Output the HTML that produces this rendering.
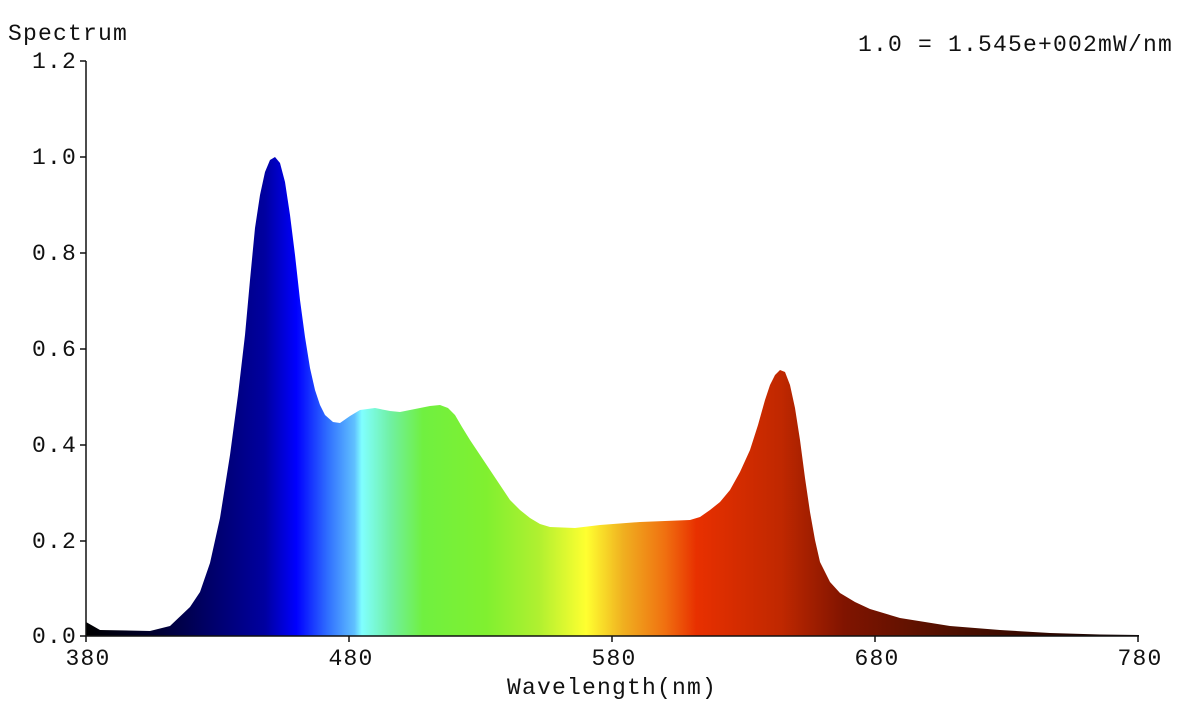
<!DOCTYPE html>
<html><head><meta charset="utf-8"><style>
html,body{margin:0;padding:0;background:#fff;width:1200px;height:714px;overflow:hidden}
text{font-family:"Liberation Mono",monospace;font-size:23px;fill:#111;letter-spacing:1.2px}
</style></head><body>
<svg width="1200" height="714" viewBox="0 0 1200 714">
<defs>
<linearGradient id="g" gradientUnits="userSpaceOnUse" x1="86" y1="0" x2="1139" y2="0">
<stop offset="0" stop-color="#000000"/>
<stop offset="0.06" stop-color="#00002a"/>
<stop offset="0.11" stop-color="#000060"/>
<stop offset="0.17" stop-color="#0000a0"/>
<stop offset="0.195" stop-color="#0000f0"/>
<stop offset="0.2" stop-color="#0000ff"/>
<stop offset="0.23" stop-color="#3070ff"/>
<stop offset="0.255" stop-color="#60c0ff"/>
<stop offset="0.262" stop-color="#80ffff"/>
<stop offset="0.29" stop-color="#70f0a0"/>
<stop offset="0.32" stop-color="#70f040"/>
<stop offset="0.38" stop-color="#80f030"/>
<stop offset="0.43" stop-color="#b0f030"/>
<stop offset="0.475" stop-color="#ffff30"/>
<stop offset="0.51" stop-color="#f0b020"/>
<stop offset="0.55" stop-color="#f07010"/>
<stop offset="0.58" stop-color="#e83000"/>
<stop offset="0.66" stop-color="#c02800"/>
<stop offset="0.72" stop-color="#801400"/>
<stop offset="0.82" stop-color="#501000"/>
<stop offset="1" stop-color="#100000"/>
</linearGradient>
</defs>
<path fill="url(#g)" d="M86,636 L86,622 L100,630 L150,631 L170,626 L190,607 L200,592 L210,563 L220,518 L230,455 L238,395 L245,335 L250,280 L255,228 L260,195 L265,172 L270,160 L275,157 L280,163 L285,182 L290,215 L295,255 L300,300 L305,337 L310,368 L315,390 L320,405 L325,415 L333,422 L340,423 L350,416 L360,410 L375,408 L390,411 L400,412 L410,410 L420,408 L430,406 L440,405 L448,408 L455,415 L462,427 L470,440 L480,455 L490,470 L500,485 L510,500 L520,510 L530,518 L540,524 L550,527 L575,528 L600,525 L640,522 L690,520 L700,517 L710,510 L720,502 L730,490 L740,472 L750,450 L758,425 L765,400 L770,385 L775,375 L780,370 L785,372 L790,385 L795,408 L800,440 L805,478 L810,512 L815,540 L820,562 L830,582 L840,593 L855,602 L870,609 L900,618 L950,626 L1000,630 L1050,633 L1100,634.5 L1139,635 L1139,636 Z"/>
<g stroke="#111" stroke-width="1.5" fill="none">
<path d="M86,61 V636 H1139"/>
<path d="M80,61H86M80,157H86M80,253H86M80,349H86M80,445H86M80,541H86M80,636H86"/>
<path d="M86,636V642M349,636V642M612,636V642M875,636V642M1138,636V642"/>
</g>
<text x="8" y="40">Spectrum</text>
<text x="858" y="51">1.0 = 1.545e+002mW/nm</text>
<g text-anchor="end">
<text x="77" y="68">1.2</text>
<text x="77" y="164">1.0</text>
<text x="77" y="260">0.8</text>
<text x="77" y="356">0.6</text>
<text x="77" y="452">0.4</text>
<text x="77" y="548">0.2</text>
<text x="77" y="643">0.0</text>
</g>
<g text-anchor="middle">
<text x="88" y="665">380</text>
<text x="351" y="665">480</text>
<text x="614" y="665">580</text>
<text x="877" y="665">680</text>
<text x="1140" y="665">780</text>
<text x="612" y="694">Wavelength(nm)</text>
</g>
</svg>
</body></html>
